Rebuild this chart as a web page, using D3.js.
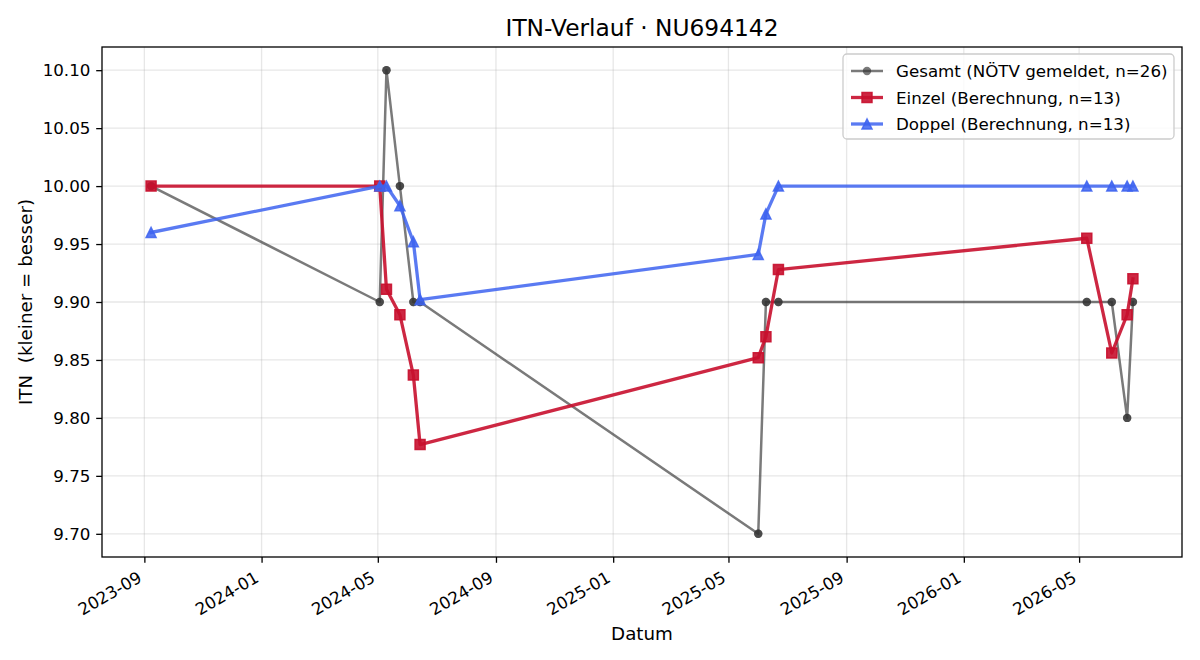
<!DOCTYPE html>
<html>
<head>
<meta charset="utf-8">
<script src="https://cdn.jsdelivr.net/npm/d3@7"></script>
<style>
  html, body { margin: 0; padding: 0; background: #fff; }
  svg { display: block; font-family: "DejaVu Sans", sans-serif; }
  svg text { font-family: "DejaVu Sans", sans-serif; }
</style>
</head>
<body>
<svg id="chart" width="1200" height="660"></svg>
<script>
// ---------- data ----------
const sessionDates = ["2023-09-08","2024-05-03","2024-05-10","2024-05-24","2024-06-07","2024-06-14",
                      "2025-06-01","2025-06-09","2025-06-22","2026-05-09","2026-06-04","2026-06-20","2026-06-26"];
const gesamtDates = ["2023-09-08","2023-09-08","2024-05-03","2024-05-03","2024-05-10","2024-05-10",
                     "2024-05-24","2024-05-24","2024-06-07","2024-06-07","2024-06-14","2024-06-14",
                     "2025-06-01","2025-06-01","2025-06-09","2025-06-09","2025-06-22","2025-06-22",
                     "2026-05-09","2026-05-09","2026-06-04","2026-06-04","2026-06-20","2026-06-20",
                     "2026-06-26","2026-06-26"];
const gesamtValues = [10.00,10.00, 9.90,9.90, 10.10,10.10, 10.00,10.00, 9.90,9.90, 9.90,9.90,
                      9.70,9.70, 9.90,9.90, 9.90,9.90, 9.90,9.90, 9.90,9.90, 9.80,9.80, 9.90,9.90];
const einzelValues = [10.000, 10.000, 9.911, 9.889, 9.837, 9.777, 9.852, 9.870, 9.928, 9.955, 9.856, 9.889, 9.920];
const doppelValues = [9.960, 10.000, 10.000, 9.983, 9.952, 9.902, 9.941, 9.976, 10.000, 10.000, 10.000, 10.000, 10.000];
const xTickLabels = ["2023-09","2024-01","2024-05","2024-09","2025-01","2025-05","2025-09","2026-01","2026-05"];
const yTickLabels = ["9.70","9.75","9.80","9.85","9.90","9.95","10.00","10.05","10.10"];
const seriesNames = ["Gesamt (NÖTV gemeldet, n=26)", "Einzel (Berechnung, n=13)", "Doppel (Berechnung, n=13)"];
const titleText = "ITN-Verlauf · NU694142";
const xLabelText = "Datum";
const yLabelText = "ITN  (kleiner = besser)";

// ---------- setup ----------
const FONT = "DejaVu Sans, sans-serif";
const parse = d3.utcParse("%Y-%m-%d");
const parseMonth = d3.utcParse("%Y-%m");
const svg = d3.select("#chart");
const L = 102, R = 1182, T = 47, B = 557;

const gesamt = gesamtDates.map((d, i) => ({ x: parse(d), y: gesamtValues[i] }));
const einzel = sessionDates.map((d, i) => ({ x: parse(d), y: einzelValues[i] }));
const doppel = sessionDates.map((d, i) => ({ x: parse(d), y: doppelValues[i] }));

const allX = gesamt.concat(einzel, doppel).map(d => +d.x);
const allY = gesamt.concat(einzel, doppel).map(d => d.y);
const xMin = d3.min(allX), xMax = d3.max(allX);
const yMin = d3.min(allY), yMax = d3.max(allY);
const xPad = (xMax - xMin) * 0.05, yPad = (yMax - yMin) * 0.05;

const x = d3.scaleUtc().domain([new Date(xMin - xPad), new Date(xMax + xPad)]).range([L, R]);
const y = d3.scaleLinear().domain([yMin - yPad, yMax + yPad]).range([B, T]);

const xTicks = xTickLabels.map(parseMonth);
const yTicks = yTickLabels.map(Number);

// grid
const grid = svg.append("g");
grid.selectAll("line.gx").data(xTicks).enter().append("line")
  .attr("x1", d => x(d)).attr("x2", d => x(d)).attr("y1", T).attr("y2", B)
  .attr("stroke", "#b0b0b0").attr("stroke-opacity", 0.3).attr("stroke-width", 1.3);
grid.selectAll("line.gy").data(yTicks).enter().append("line")
  .attr("x1", L).attr("x2", R).attr("y1", d => y(d)).attr("y2", d => y(d))
  .attr("stroke", "#b0b0b0").attr("stroke-opacity", 0.3).attr("stroke-width", 1.3);

// clip
svg.append("clipPath").attr("id", "clip").append("rect")
  .attr("x", L).attr("y", T).attr("width", R - L).attr("height", B - T);

const line = d3.line().x(d => x(d.x)).y(d => y(d.y));
const plot = svg.append("g").attr("clip-path", "url(#clip)");

const markerPath = {
  circle: (s) => d3.symbol().type(d3.symbolCircle).size(Math.PI * s * s / 4)(),
  square: (s) => `M${-s/2},${-s/2}H${s/2}V${s/2}H${-s/2}Z`,
  triangle: (s) => `M0,${-s/2}L${-s/2},${s/2}L${s/2},${s/2}Z`
};

const styles = [
  { data: gesamt, color: "#333333", op: 0.65, lw: 2.5, marker: "circle", ms: 8.4, mew: 0 },
  { data: einzel, color: "#c8102e", op: 0.9, lw: 3.3, marker: "square", ms: 10, mew: 1.5 },
  { data: doppel, color: "#3d63f0", op: 0.85, lw: 3.3, marker: "triangle", ms: 10, mew: 1.5 }
];

styles.forEach(s => {
  const g = plot.append("g");
  g.append("path").datum(s.data).attr("d", line)
    .attr("fill", "none").attr("stroke", s.color).attr("stroke-opacity", s.op)
    .attr("stroke-width", s.lw).attr("stroke-linejoin", "round").attr("stroke-linecap", "square");
  g.selectAll("path.m").data(s.data).enter().append("path")
    .attr("d", markerPath[s.marker](s.ms))
    .attr("transform", d => `translate(${x(d.x)},${y(d.y)})`)
    .attr("fill", s.color).attr("fill-opacity", s.op)
    .attr("stroke", s.mew ? s.color : "none").attr("stroke-opacity", s.op)
    .attr("stroke-width", s.mew).attr("stroke-linejoin", "miter");
});

// axes
const xAxis = svg.append("g").attr("transform", `translate(0,${B})`)
  .call(d3.axisBottom(x).tickValues(xTicks).tickFormat(d3.utcFormat("%Y-%m")).tickSizeOuter(0).tickSize(5.8).tickPadding(5.8));
xAxis.attr("font-family", FONT).attr("font-size", 16.7);
xAxis.select(".domain").remove();
xAxis.selectAll(".tick line").attr("stroke", "#000").attr("stroke-width", 1.3);
xAxis.selectAll(".tick text")
  .attr("font-family", FONT).attr("font-size", "16.7px").attr("fill", "#000")
  .attr("text-anchor", "end").attr("dy", null).attr("y", null)
  .attr("transform", "translate(-2,24) rotate(-30)");

const yAxis = svg.append("g").attr("transform", `translate(${L},0)`)
  .call(d3.axisLeft(y).tickValues(yTicks).tickFormat(d3.format(".2f")).tickSizeOuter(0).tickSize(5.8).tickPadding(5.8));
yAxis.attr("font-family", FONT).attr("font-size", 16.7);
yAxis.select(".domain").remove();
yAxis.selectAll(".tick line").attr("stroke", "#000").attr("stroke-width", 1.3);
yAxis.selectAll(".tick text").attr("font-family", FONT).attr("font-size", "16.7px").attr("fill", "#000");

// frame
svg.append("rect").attr("x", L).attr("y", T).attr("width", R - L).attr("height", B - T)
  .attr("fill", "none").attr("stroke", "#000").attr("stroke-width", 1.3);

// titles
svg.append("text").attr("x", (L + R) / 2).attr("y", 36).attr("text-anchor", "middle")
  .attr("font-size", "23.3px").attr("fill", "#000").text(titleText);
svg.append("text").attr("x", (L + R) / 2).attr("y", 640).attr("text-anchor", "middle")
  .attr("font-size", "18.3px").attr("fill", "#000").text(xLabelText);
svg.append("text").attr("transform", `translate(32,${(T + B) / 2}) rotate(-90)`)
  .attr("text-anchor", "middle").attr("font-size", "18.3px").attr("fill", "#000")
  .style("white-space", "pre").text(yLabelText);

// legend
const lg = svg.append("g").attr("transform", "translate(843,54)");
lg.append("rect").attr("x", 0).attr("y", 0).attr("width", 331).attr("height", 85)
  .attr("rx", 4).attr("fill", "#fff").attr("fill-opacity", 0.8)
  .attr("stroke", "#cccccc").attr("stroke-width", 1.3);
styles.forEach((s, i) => {
  const cy = 17 + i * 26.5;
  lg.append("line").attr("x1", 8).attr("x2", 40).attr("y1", cy).attr("y2", cy)
    .attr("stroke", s.color).attr("stroke-opacity", s.op).attr("stroke-width", s.lw);
  lg.append("path").attr("d", markerPath[s.marker](s.ms)).attr("transform", `translate(24,${cy})`)
    .attr("fill", s.color).attr("fill-opacity", s.op)
    .attr("stroke", s.mew ? s.color : "none").attr("stroke-opacity", s.op).attr("stroke-width", s.mew);
  lg.append("text").attr("x", 53).attr("y", cy).attr("dy", "0.36em")
    .attr("font-size", "16.7px").attr("fill", "#000").text(seriesNames[i]);
});
</script>
</body>
</html>
